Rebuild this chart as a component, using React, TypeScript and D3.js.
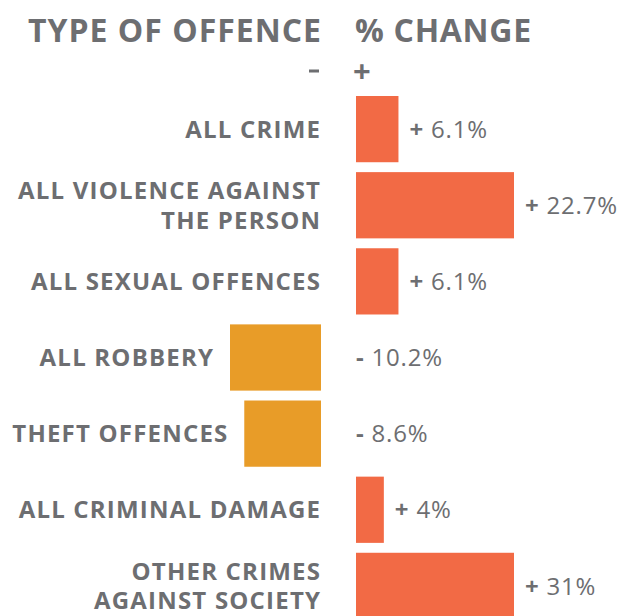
import React from 'react';
import * as d3 from 'd3';

const categories = [
  ['ALL CRIME'],
  ['ALL VIOLENCE AGAINST', 'THE PERSON'],
  ['ALL SEXUAL OFFENCES'],
  ['ALL ROBBERY'],
  ['THEFT OFFENCES'],
  ['ALL CRIMINAL DAMAGE'],
  ['OTHER CRIMES', 'AGAINST SOCIETY']
];
const changes = [6.1, 22.7, 6.1, -10.2, -8.6, 4, 31];
const valueLabels = ['6.1%', '22.7%', '6.1%', '10.2%', '8.6%', '4%', '31%'];

const WIDTH = 622;
const HEIGHT = 616;
const GREY = '#6d6e71';
const POS_COLOR = '#f26a45';
const NEG_COLOR = '#e89c28';
const FONT = '"Open Sans", Lato, sans-serif';

const negZero = 321;
const posZero = 356;
const LS = 1.2; // letter spacing of the category labels
const LINE_GAP = 29.5;

export default function App() {
  const keys = categories.map(c => c.join(' '));

  const y = d3.scaleBand<string>()
    .domain(keys)
    .range([96, 619])
    .paddingInner(0.13)
    .paddingOuter(0);

  // the two halves of the chart are drawn from separate scales
  const xPos = d3.scaleLinear().domain([0, 22.7]).range([0, 158]).clamp(true);
  const xNeg = d3.scaleLinear().domain([0, 10.2]).range([0, 91]);

  return (
    <svg width={WIDTH} height={HEIGHT}
      style={{position: 'absolute', left: 0, top: 0, background: '#fff'}}>
      <g fontFamily={FONT} fill={GREY}>
        <text x={negZero + 1} y={41.7} textAnchor="end" fontSize={32}
          fontWeight={700} letterSpacing={1}>
          TYPE OF OFFENCE
        </text>
        <text x={posZero - 1} y={41.7} fontSize={32} fontWeight={700}
          letterSpacing={0.7}>% CHANGE</text>
        <rect x={309} y={69.5} width={10} height={3} />
        <text x={posZero - 3} y={82} fontSize={31} fontWeight={700}>+</text>

        {changes.map((v, i) => {
          const key = keys[i];
          const top = y(key) as number;
          const bw = y.bandwidth();
          const cy = top + bw / 2;
          const isPos = v >= 0;
          const w = isPos ? xPos(v) : xNeg(-v);
          const barX = isPos ? posZero : negZero - w;
          const lines = categories[i];
          const labelRight = (isPos ? negZero - 1 : barX - 17) + LS;
          const valueX = isPos ? posZero + w + 11 : posZero;
          const firstY = cy + 8.7 - (lines.length - 1) / 2 * LINE_GAP;
          return (
            <g key={key}>
              <rect x={barX} y={top} width={w} height={bw}
                fill={isPos ? POS_COLOR : NEG_COLOR} />
              <text x={labelRight} y={firstY} textAnchor="end" fontSize={24}
                fontWeight={700} letterSpacing={LS}>
                {lines.map((line, j) => (
                  <tspan key={line} x={labelRight} dy={j === 0 ? 0 : LINE_GAP}>
                    {line}
                  </tspan>
                ))}
              </text>
              <text x={valueX} y={cy + 8.7} fontSize={24} letterSpacing={0.8}>
                <tspan fontWeight={700}>{isPos ? '+' : '-'}</tspan>
                <tspan> {valueLabels[i]}</tspan>
              </text>
            </g>
          );
        })}
      </g>
    </svg>
  );
}
